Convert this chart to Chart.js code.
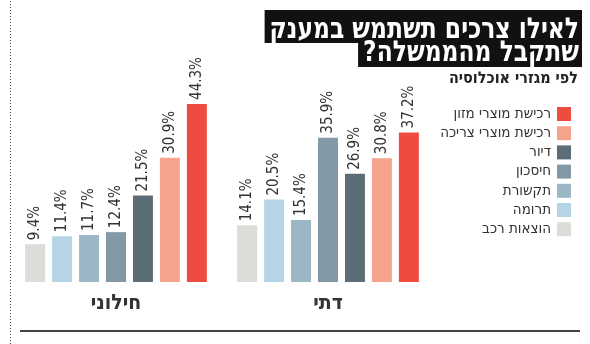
<!DOCTYPE html>
<html>
<head>
<meta charset="utf-8">
<script src="https://cdn.jsdelivr.net/npm/chart.js@4"></script>
<style>
  html, body { margin: 0; padding: 0; background: #fff; }
  #wrap { width: 590px; height: 344px; position: relative; }
</style>
</head>
<body>
<div id="wrap"><canvas id="chart" width="590" height="344"></canvas></div>
<script>
// קבוצות אוכלוסיה
const groups = ["חילוני", "דתי"];

// סדרות (מהנמוכה לגבוהה בכל קבוצה)
const seriesNames = [
    "הוצאות רכב",
    "תרומה",
    "תקשורת",
    "חיסכון",
    "דיור",
    "רכישת מוצרי צריכה",
    "רכישת מוצרי מזון"
];
const carValues = [9.4, 14.1];
const donationValues = [11.4, 20.5];
const commValues = [11.7, 15.4];
const savingsValues = [12.4, 35.9];
const housingValues = [21.5, 26.9];
const goodsValues = [30.9, 30.8];
const foodValues = [44.3, 37.2];

const seriesColors = ["#dcdcd8", "#b5d5e7", "#9bb6c5", "#8499a6", "#5d6d78", "#f5a38c", "#ef4c41"];

const titleLines = ["לאילו צרכים תשתמש במענק", "שתקבל מהממשלה?"];
const subtitle = "לפי מגזרי אוכלוסיה";

const allValues = [carValues, donationValues, commValues, savingsValues, housingValues, goodsValues, foodValues];

const FONT = '"DejaVu Sans Condensed", "DejaVu Sans", sans-serif';

// כותרת, מקרא, תוויות ערכים וקווי מסגרת
const decorations = {
    id: "decorations",
    afterDatasetsDraw(chart) {
        const ctx = chart.ctx;
        ctx.save();

        // קו מנוקד משמאל
        ctx.fillStyle = "#555";
        for (let y = 1; y < 344; y += 3) ctx.fillRect(10, y, 1, 1);

        // קו תחתון
        ctx.fillStyle = "#444";
        ctx.fillRect(20, 330, 560, 2);

        // ערכים מעל העמודות
        ctx.fillStyle = "#333";
        ctx.font = "15px " + FONT;
        ctx.textBaseline = "middle";
        ctx.textAlign = "left";
        chart.data.datasets.forEach((ds, i) => {
            chart.getDatasetMeta(i).data.forEach((bar, j) => {
                ctx.save();
                ctx.translate(bar.x, bar.y - 4);
                ctx.rotate(-Math.PI / 2);
                ctx.fillText(ds.data[j].toFixed(1) + "%", 0, 0);
                ctx.restore();
            });
        });

        // שמות הקבוצות
        const xScale = chart.scales.x;
        ctx.fillStyle = "#333";
        ctx.font = "bold 21px " + FONT;
        ctx.textAlign = "center";
        groups.forEach((g, i) => {
            ctx.fillText(g, xScale.getPixelForValue(i), 304);
        });

        // כותרת על רקע שחור
        ctx.direction = "rtl";
        ctx.textAlign = "right";
        ctx.textBaseline = "alphabetic";
        ctx.font = "bold 26px " + FONT;
        const right = 582;
        const boxes = [[10, 33], [43, 24]];
        titleLines.forEach((line, i) => {
            const w = ctx.measureText(line).width;
            ctx.fillStyle = "#111";
            ctx.fillRect(right - w - 8, boxes[i][0], w + 8, boxes[i][1]);
            ctx.save();
            ctx.translate(right - 3, i === 0 ? 38 : 61);
            ctx.scale(1, 1.12);
            ctx.fillStyle = "#fff";
            ctx.fillText(line, 0, 0);
            ctx.restore();
        });

        // כותרת משנה
        ctx.textBaseline = "middle";
        ctx.fillStyle = "#222";
        ctx.font = "bold 16px " + FONT;
        ctx.fillText(subtitle, 578, 79);

        // מקרא
        ctx.font = "15px " + FONT;
        for (let i = seriesNames.length - 1, row = 0; i >= 0; i--, row++) {
            const cy = 114 + row * 19.2;
            ctx.fillStyle = seriesColors[i];
            ctx.fillRect(557, cy - 7, 14, 14);
            ctx.fillStyle = "#333";
            ctx.fillText(seriesNames[i], 551, cy);
        }

        ctx.restore();
    }
};

new Chart(document.getElementById("chart"), {
    type: "bar",
    data: {
        labels: groups,
        datasets: seriesNames.map((name, i) => ({
            label: name,
            data: allValues[i],
            backgroundColor: seriesColors[i],
            categoryPercentage: 0.89,
            barPercentage: 0.74
        }))
    },
    options: {
        responsive: false,
        animation: false,
        layout: { padding: { left: 10, right: 156, top: 81, bottom: 62 } },
        plugins: { legend: { display: false }, tooltip: { enabled: false } },
        scales: {
            x: { display: false },
            y: { display: false, min: 0, max: 50 }
        }
    },
    plugins: [decorations]
});
</script>
</body>
</html>
